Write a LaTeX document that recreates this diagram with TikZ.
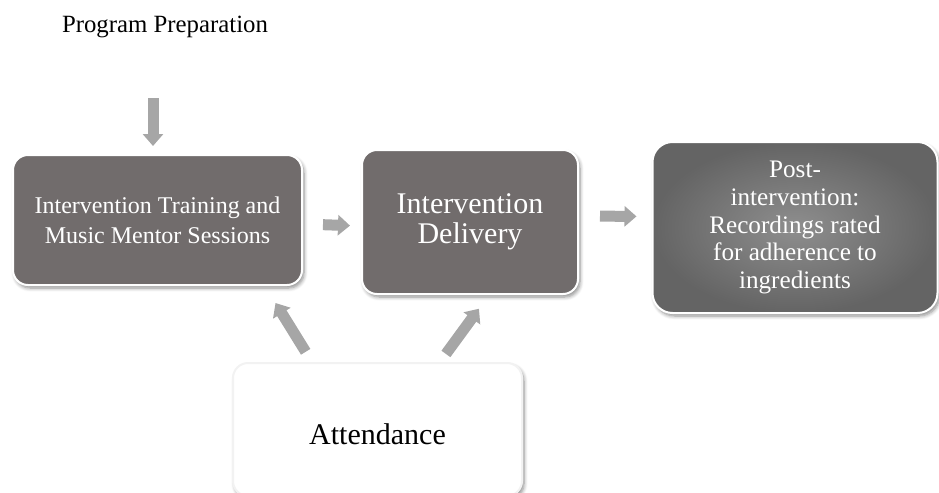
\documentclass[tikz,border=0pt]{standalone}
\usepackage{fontspec}
\setmainfont{Liberation Serif}
\usetikzlibrary{arrows.meta,positioning,shadows.blur}
\definecolor{boxgray}{RGB}{113,108,108}
\definecolor{boxlight}{RGB}{142,142,142}
\definecolor{boxdark}{RGB}{100,100,100}
\definecolor{arrowgray}{RGB}{166,166,166}
\tikzset{
  % dark rounded box with white rim
  box/.style={
    draw=white,
    line width=1pt,
    rounded corners=7.5pt,
    fill=boxgray,
    text=white,
    align=center,
    blur shadow={shadow xshift=1pt, shadow yshift=-1.5pt, shadow blur steps=6, shadow opacity=45}
  },
  % white box
  lightbox/.style={box, draw=gray!10, fill=white, text=black},
  % thick grey block arrows
  blockarr/.style={-{Triangle[width=10pt,length=6pt]}, line width=5.5pt, arrowgray},
}

\begin{document}
\begin{tikzpicture}[x=0.5pt, y=-0.5pt]
    \useasboundingbox (0,0) rectangle (939,493);

    % Heading
    \node[font=\fontsize{12.4}{15}\selectfont] (prep) at (165,27) {Program Preparation};
    \coordinate (prepout) at (153,98);

    % Boxes
    \node[box, minimum width=144.5pt, minimum height=65pt, font=\fontsize{12}{15}\selectfont] (train) at (157.5,220) {Intervention Training and\\Music Mentor Sessions};
    \node[box, minimum width=108pt, minimum height=72pt, font=\fontsize{15}{15}\selectfont] (deliver) at (470,222) {Intervention\\Delivery};
    \node[box, rounded corners=10pt, shading=radial, inner color=boxlight, outer color=boxdark, minimum width=142.5pt, minimum height=85.5pt, font=\fontsize{12.6}{13.8}\selectfont] (post) at (795,227.5) {Post-\\intervention:\\Recordings rated\\for adherence to\\ingredients};
    \node[lightbox, minimum width=144.5pt, minimum height=66.5pt, text height=14.5pt, text depth=0pt, font=\fontsize{15}{18}\selectfont] (attend) at (377.5,429.5) {Attendance};

    % Arrows
    \draw[blockarr, shorten >=4pt] (prepout) -- (prepout |- train.north);
    \draw[blockarr, shorten <=10pt, shorten >=5.5pt] ([yshift=-2pt]train.east) -- ([yshift=-2pt]deliver.west);
    \draw[blockarr, shorten <=10.5pt, shorten >=7.5pt] ([yshift=3pt]deliver.east) -- ([yshift=5.5pt]post.west);
    \draw[blockarr, shorten <=6pt, shorten >=10pt] ([xshift=40pt]attend.north west) -- ([xshift=-19pt]train.south east);
    \draw[blockarr, shorten <=5pt, shorten >=8.5pt] ([xshift=104pt]attend.north west) -- ([xshift=64pt]deliver.south west);
\end{tikzpicture}
\end{document}
